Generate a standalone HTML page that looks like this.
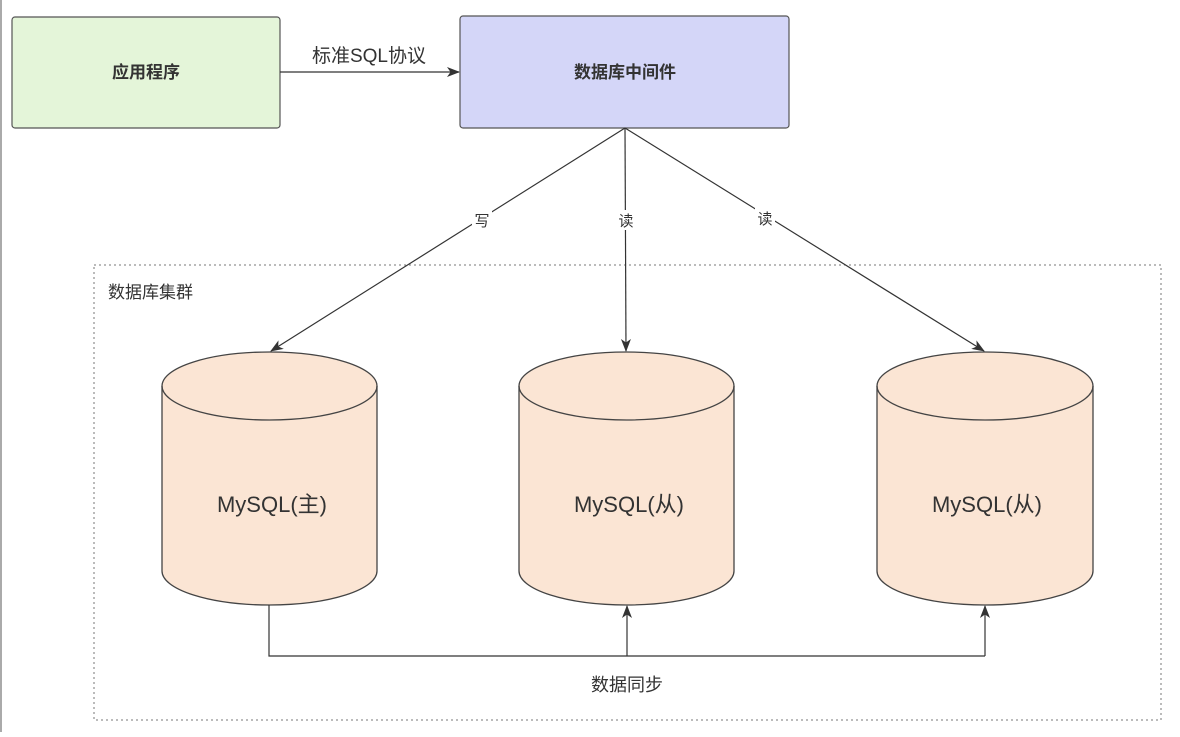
<!DOCTYPE html>
<html><head><meta charset="utf-8"><style>
body{margin:0;width:1180px;height:732px;background:#fff;overflow:hidden}
svg text{font-family:"Liberation Sans","Noto Sans CJK SC",sans-serif;fill:#333}
</style></head><body>
<svg width="1180" height="732" viewBox="0 0 1180 732">
<defs><marker id="a" markerWidth="13" markerHeight="13" refX="12" refY="6.5" orient="auto" markerUnits="userSpaceOnUse"><path d="M0,1.5 L13,6.5 L0,11.5 L3.5,6.5z" fill="#333"/></marker></defs>
<line x1="1" y1="0" x2="1" y2="732" stroke="#555" stroke-width="1"/>
<rect x="12" y="17" width="268" height="111" rx="3" fill="#e4f5d9" stroke="#555" stroke-width="1.2"/>
<text x="146" y="78" font-size="17" font-weight="bold" text-anchor="middle">应用程序</text>
<rect x="460" y="16" width="329" height="112" rx="3" fill="#d4d6f8" stroke="#555" stroke-width="1.2"/>
<text x="625" y="78" font-size="17" font-weight="bold" text-anchor="middle">数据库中间件</text>
<line x1="280" y1="72" x2="459" y2="72" stroke="#333" stroke-width="1.2" marker-end="url(#a)"/>
<text x="369" y="62" font-size="19" text-anchor="middle">标准SQL协议</text>
<rect x="94" y="265" width="1067" height="455" fill="none" stroke="#777" stroke-dasharray="2,3"/>
<text x="108" y="298" font-size="17">数据库集群</text>
<line x1="625" y1="128" x2="271" y2="351" stroke="#333" stroke-width="1.2" marker-end="url(#a)"/>
<line x1="625" y1="128" x2="626" y2="351" stroke="#333" stroke-width="1.2" marker-end="url(#a)"/>
<line x1="625" y1="128" x2="984" y2="351" stroke="#333" stroke-width="1.2" marker-end="url(#a)"/>
<rect x="472" y="210" width="20" height="20" fill="#fff"/><text x="482" y="226" font-size="15" text-anchor="middle">写</text>
<rect x="616" y="210" width="20" height="20" fill="#fff"/><text x="626" y="226" font-size="15" text-anchor="middle">读</text>
<rect x="755" y="208" width="20" height="20" fill="#fff"/><text x="765" y="224" font-size="15" text-anchor="middle">读</text>
<g fill="#fbe5d4" stroke="#444" stroke-width="1.3">
<path d="M162,386 A107.5,34 0 0 1 377,386 L377,571 A107.5,34 0 0 1 162,571 Z"/><path d="M162,386 A107.5,34 0 0 0 377,386" fill="none"/>
<path d="M519,386 A107.5,34 0 0 1 734,386 L734,571 A107.5,34 0 0 1 519,571 Z"/><path d="M519,386 A107.5,34 0 0 0 734,386" fill="none"/>
<path d="M877,386 A108,34 0 0 1 1093,386 L1093,571 A108,34 0 0 1 877,571 Z"/><path d="M877,386 A108,34 0 0 0 1093,386" fill="none"/>
</g>
<text x="272" y="512" font-size="22" text-anchor="middle">MySQL(主)</text>
<text x="629" y="512" font-size="22" text-anchor="middle">MySQL(从)</text>
<text x="987" y="512" font-size="22" text-anchor="middle">MySQL(从)</text>
<polyline points="269,605 269,656 985,656" fill="none" stroke="#333" stroke-width="1.2"/>
<line x1="627" y1="656" x2="627" y2="606" stroke="#333" stroke-width="1.2" marker-end="url(#a)"/>
<line x1="985" y1="656" x2="985" y2="606" stroke="#333" stroke-width="1.2" marker-end="url(#a)"/>
<text x="627" y="691" font-size="18" text-anchor="middle">数据同步</text>
</svg>
</body></html>
